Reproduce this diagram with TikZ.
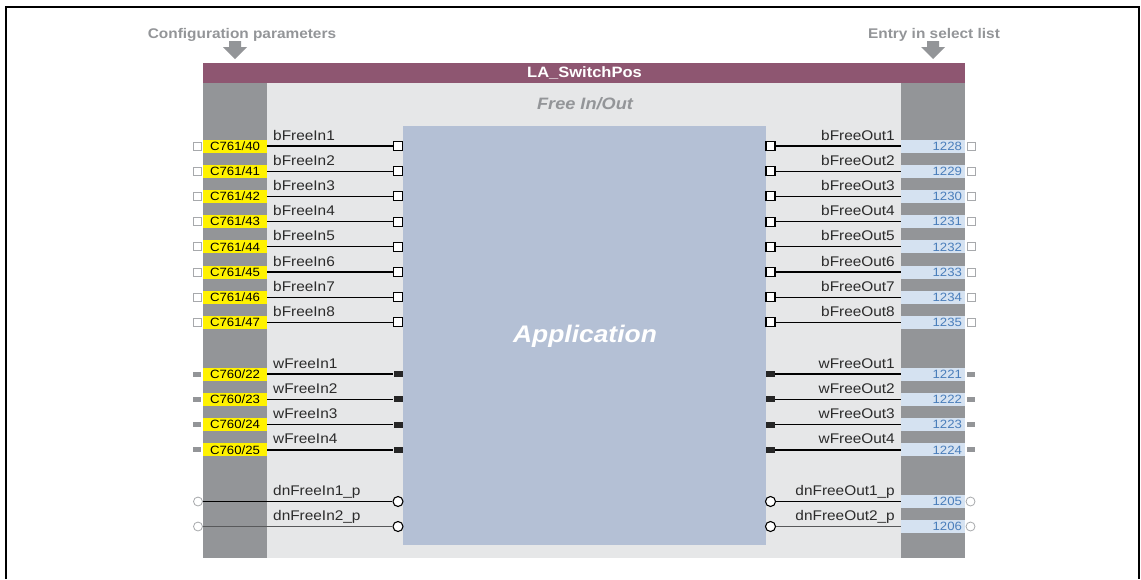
\documentclass[tikz,border=0pt]{standalone}
\usepackage{fontspec}
\setmainfont[FakeStretch=1.1]{Liberation Sans}

\definecolor{titlebar}{HTML}{8E5671}
\definecolor{colgray}{HTML}{939598}
\definecolor{panelgray}{HTML}{E6E7E8}
\definecolor{appblue}{HTML}{B4C0D5}
\definecolor{cfgyellow}{HTML}{FFF200}
\definecolor{selfill}{HTML}{D5E2F1}
\definecolor{seltext}{HTML}{4A7EBB}
\definecolor{sigtext}{HTML}{2B2B2B}
\definecolor{pingray}{HTML}{A7A9AC}
\definecolor{wiredark}{HTML}{58595B}

\tikzset{
  sig/.style={font=\fontsize{14}{16}\selectfont, text=sigtext, inner sep=0pt},
  cfgbox/.style={fill=cfgyellow, minimum width=64pt, minimum height=13pt, inner sep=0pt,
    text height=8.7pt, text depth=0pt, font=\fontsize{12}{13}\selectfont},
  selbox/.style={fill=selfill, text=seltext, text width=58pt, align=right, inner xsep=3pt,
    inner ysep=0pt, minimum height=13pt, text height=8.7pt, text depth=0pt,
    font=\fontsize{12}{13}\selectfont},
  bport/.style={draw=black, fill=white, line width=1.1pt, minimum size=9pt, inner sep=0pt},
  wport/.style={fill=black!85, minimum width=9pt, minimum height=6pt, inner sep=0pt},
  dport/.style={circle, draw=black, fill=white, line width=1.1pt, minimum size=10pt, inner sep=0pt},
  bpin/.style={draw=pingray, fill=white, line width=0.8pt, minimum size=8pt, inner sep=0pt},
  wpin/.style={fill=colgray, minimum width=8pt, minimum height=5pt, inner sep=0pt},
  dpin/.style={circle, draw=pingray, fill=white, line width=0.8pt, minimum size=9pt, inner sep=0pt},
  wire/.style={line width=1.2pt}
}

\begin{document}
\begin{tikzpicture}[x=1pt, y=-1pt]
  \useasboundingbox (0,0) rectangle (1141,579);

  %% ---- Frame ----
  \draw[line width=1.6pt] (6,579) -- (6,7) -- (1139,7) -- (1139,579);

  %% ---- Header labels and arrows ----
  \node[font=\bfseries\fontsize{14}{16}\selectfont, text=colgray, anchor=base] (cfglabel)
    at (242,38) {Configuration parameters};
  \node[font=\bfseries\fontsize{14}{16}\selectfont, text=colgray, anchor=base] (sellabel)
    at (934,38) {Entry in select list};
  \fill[colgray] (229,41) -- (241,41) -- (241,47) -- (247,47) -- (235,59) -- (223,47) -- (229,47) -- cycle;
  \fill[colgray] (927,41) -- (939,41) -- (939,47) -- (945,47) -- (933,59) -- (921,47) -- (927,47) -- cycle;

  %% ---- Function block ----
  \fill[titlebar] (203,63) rectangle (965,83);
  \fill[panelgray] (267,83) rectangle (901,558);
  \fill[colgray] (203,83) rectangle (267,558);
  \fill[colgray] (901,83) rectangle (965,558);
  \fill[appblue] (403,126) rectangle (765.5,545);

  \node[font=\bfseries\fontsize{15}{17}\selectfont, text=white, anchor=base] (title)
    at (584.5,77.5) {LA\_SwitchPos};
  \node[font=\bfseries\itshape\fontsize{16.5}{18}\selectfont, text=colgray, anchor=base] (group)
    at (585,109) {Free In/Out};
  \node[font=\bfseries\itshape\fontsize{24}{28}\selectfont, text=white, anchor=base] (app)
    at (585,342.5) {Application};

  %% ---- Binary signals ----
  \foreach \i [evaluate=\i as \y using 146+25.2*(\i-1),
               evaluate=\i as \c using int(39+\i),
               evaluate=\i as \n using int(1227+\i)] in {1,...,8} {
    \node[bpin] (lb\i) at (197,\y) {};
    \node[cfgbox] (cb\i) at (235,\y) {C761/\c};
    \node[bport] (ib\i) at (398,\y) {};
    \draw[wire] (cb\i.east) -- (ib\i.west);
    \node[sig, anchor=base west] (nib\i) at (273,\y-6) {bFreeIn\i};

    \node[bport] (ob\i) at (770.5,\y) {};
    \node[selbox] (sb\i) at (933,\y) {\n};
    \node[bpin] (rb\i) at (971,\y) {};
    \draw[wire] (ob\i.east) -- (sb\i.west);
    \node[sig, anchor=base east] (nob\i) at (895,\y-6) {bFreeOut\i};
  }

  %% ---- Word signals ----
  \foreach \i [evaluate=\i as \y using 374+25.3*(\i-1),
               evaluate=\i as \c using int(21+\i),
               evaluate=\i as \n using int(1220+\i)] in {1,...,4} {
    \node[wpin] (lw\i) at (197,\y) {};
    \node[cfgbox] (cw\i) at (235,\y) {C760/\c};
    \node[wport] (iw\i) at (398,\y) {};
    \draw[wire] (cw\i.east) -- (iw\i.west);
    \node[sig, anchor=base west] (niw\i) at (273,\y-6) {wFreeIn\i};

    \node[wport] (ow\i) at (770.5,\y) {};
    \node[selbox] (sw\i) at (933,\y) {\n};
    \node[wpin] (rw\i) at (971,\y) {};
    \draw[wire] (ow\i.east) -- (sw\i.west);
    \node[sig, anchor=base east] (now\i) at (895,\y-6) {wFreeOut\i};
  }

  %% ---- Double word signals ----
  \foreach \i/\y/\n/\col in {1/501.5/1205/black, 2/526.5/1206/wiredark} {
    \node[dpin] (ld\i) at (198,\y) {};
    \node[dport] (id\i) at (398,\y) {};
    \draw[wire, \col] (ld\i.east) -- (id\i.west);
    \node[sig, anchor=base west] (nid\i) at (273,\y-6) {dnFreeIn\i\_p};

    \node[dport] (od\i) at (770.5,\y) {};
    \node[selbox] (sd\i) at (933,\y) {\n};
    \node[dpin] (rd\i) at (970.5,\y) {};
    \draw[wire, \col] (od\i.east) -- (sd\i.west);
    \node[sig, anchor=base east] (nod\i) at (895,\y-6) {dnFreeOut\i\_p};
  }

\end{tikzpicture}
\end{document}
